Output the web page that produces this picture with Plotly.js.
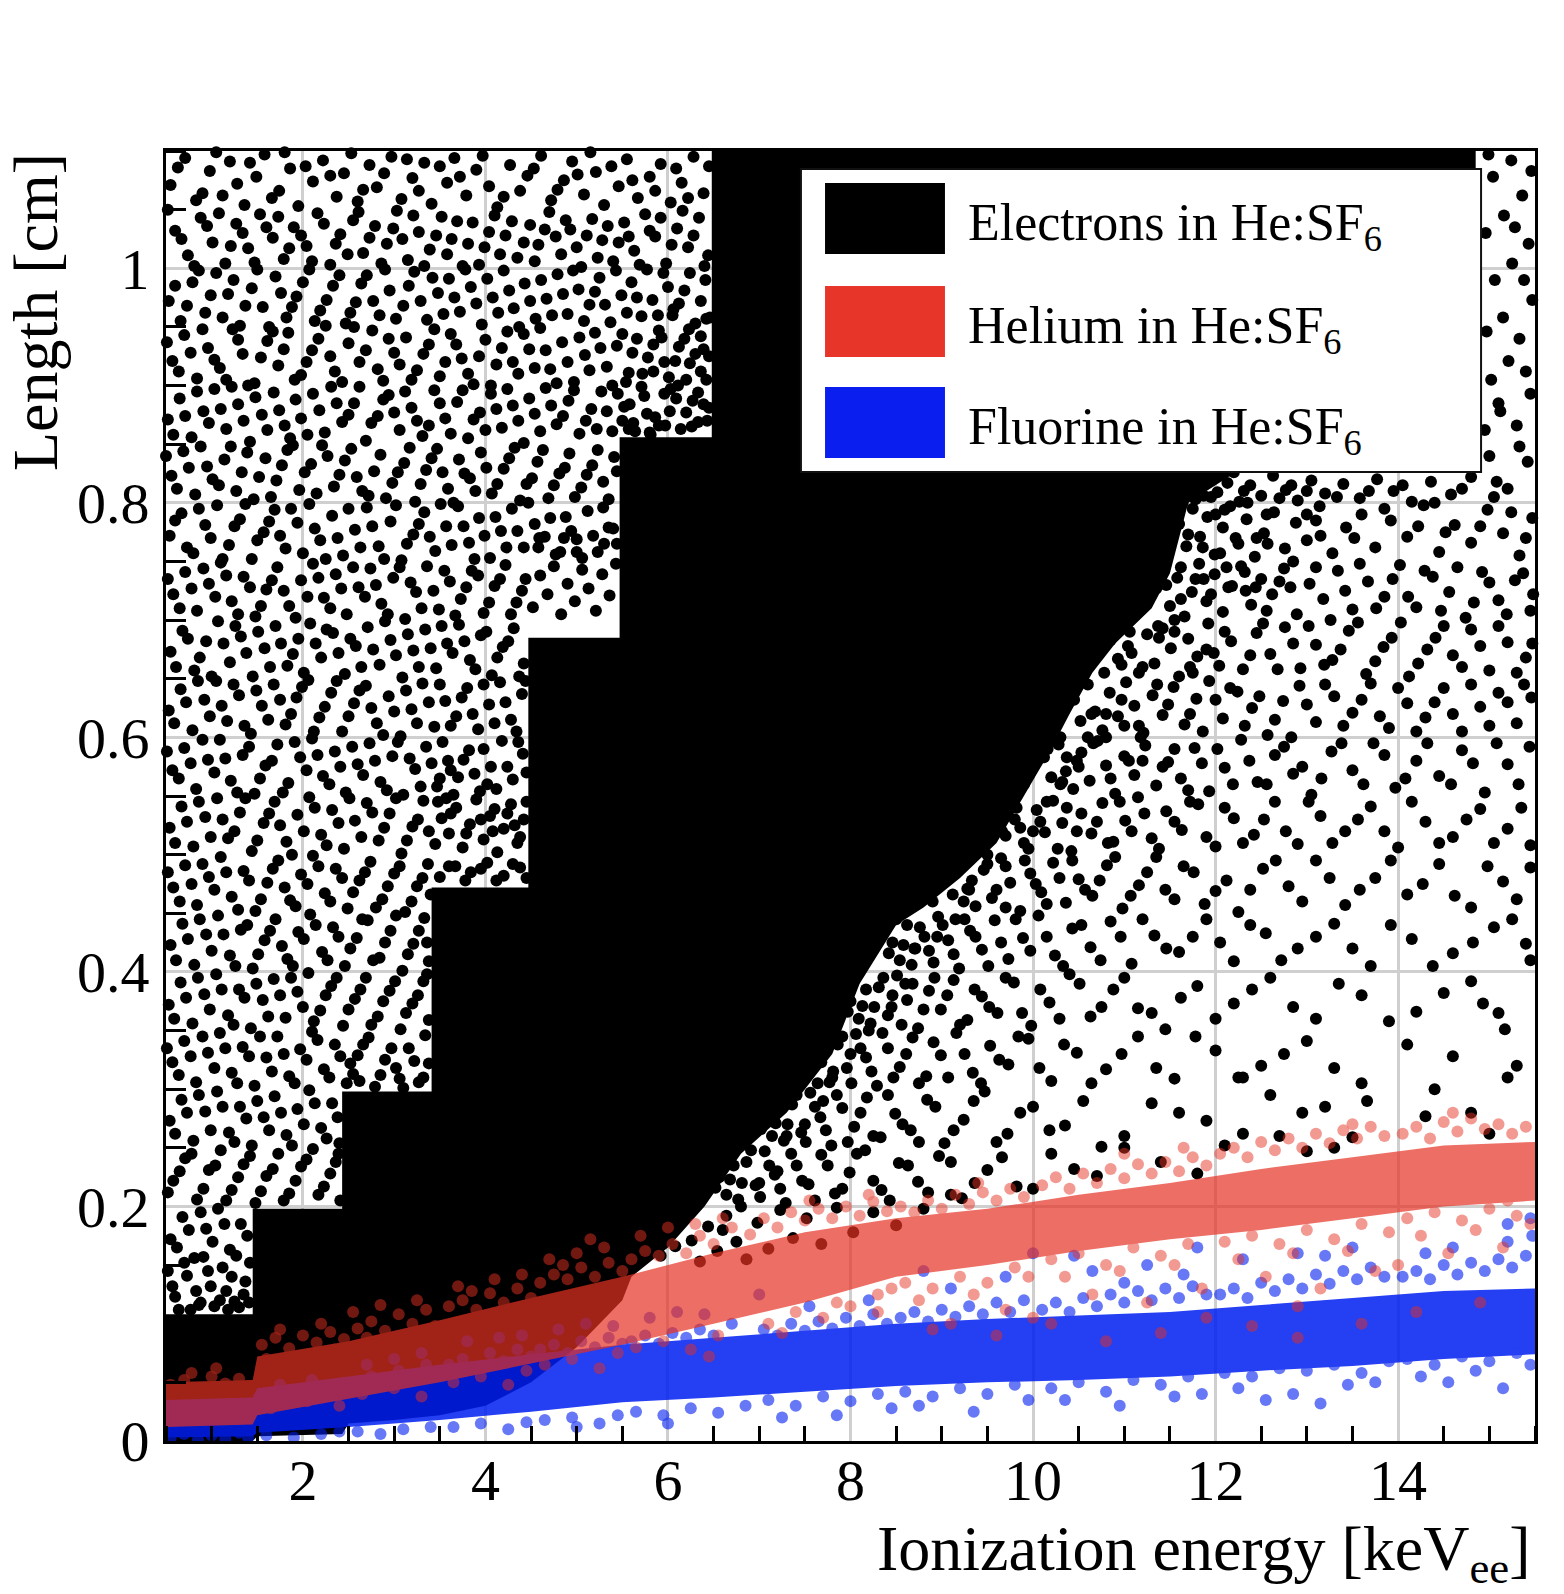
<!DOCTYPE html>
<html>
<head>
<meta charset="utf-8">
<script src="https://cdn.plot.ly/plotly-3.0.1.min.js"></script>
<style>html,body{margin:0;padding:0;background:#fff;}#chart{width:1564px;height:1594px;}</style>
</head>
<body>
<div id="chart"></div>
<script>
// ---------- DATA ----------
// Dense electron region outline (x: keVee, y: cm)
const electronCoreX = [0.5,0.5,1.45,1.45,2.43,2.43,3.41,3.41,4.47,4.47,5.47,5.47,6.48,6.48,14.85,14.85,13.2,12.2,11.7,11.5,11.3,10.9,10.65,10.4,10.2,9.9,9.6,9.2,8.8,8.5,8.1,7.8,7.3,6.8,6.4,6.0,5.6,5.5,5.0,4.5,4.0,3.5,3.0,2.5,2.43,1.5,1.45];
const electronCoreY = [0,0.108,0.108,0.198,0.198,0.298,0.298,0.472,0.472,0.685,0.685,0.856,0.856,1.1,1.1,0.85,0.84,0.825,0.80,0.74,0.71,0.68,0.655,0.62,0.59,0.55,0.51,0.48,0.455,0.44,0.39,0.33,0.28,0.245,0.2,0.165,0.14,0.12,0.08,0.05,0.03,0.022,0.018,0.015,0.006,0.004,0];

// Sparse electron events, upper-left (pairs x,y)
const electronDotsUL = [
.55,1.071,.71,1.094,.83,1.058,.98,1.083,1.12,1.062,1.2,1.091,1.36,1.054,1.49,1.078,1.58,1.097,1.74,1.066,1.86,1.085,1.95,1.053,2.11,1.074,2.22,1.092,2.37,1.061,2.45,1.081,2.6,1.057,2.73,1.088,2.81,1.069,2.97,1.095,3.08,1.059,3.2,1.077,3.33,1.09,3.41,1.055,3.58,1.073,3.66,1.094,3.79,1.062,3.9,1.084,4.04,1.07,4.13,1.052,4.27,1.088,4.38,1.066,4.46,1.079,4.61,1.096,4.72,1.058,4.86,1.075,4.95,1.091,5.08,1.063,5.21,1.082,5.3,1.054,5.46,1.07,5.55,1.093,5.67,1.06,5.8,1.078,5.92,1.089,6.03,1.056,6.15,1.073,6.28,1.095,6.39,1.064,
.6,1.032,.74,1.011,.88,1.043,1.01,1.022,1.15,1.004,1.27,1.038,1.4,1.017,1.53,1.046,1.67,1.026,1.79,1.008,1.9,1.035,2.04,1.019,2.16,1.047,2.3,1.003,2.41,1.029,2.55,1.041,2.66,1.013,2.79,1.036,2.92,1.021,3.03,1.049,3.15,1.007,3.27,1.031,3.39,1.016,3.52,1.044,3.63,1.025,3.75,1.002,3.86,1.039,3.99,1.018,4.1,1.045,4.22,1.028,4.35,1.009,4.49,1.037,4.58,1.02,4.7,1.048,4.83,1.012,4.93,1.033,5.05,1.001,5.17,1.042,5.28,1.024,5.4,1.006,5.52,1.039,5.63,1.015,5.75,1.046,5.86,1.027,5.98,1.004,6.1,1.034,6.22,1.018,6.34,1.043,6.44,1.011,
.53,.972,.66,.955,.79,.988,.93,.962,1.05,.996,1.18,.978,1.31,.951,1.44,.983,1.56,.967,1.7,.993,1.82,.958,1.93,.976,2.07,.999,2.19,.964,2.33,.985,2.47,.953,2.58,.971,2.7,.994,2.84,.96,2.95,.981,3.1,.968,3.22,.997,3.36,.956,3.48,.979,3.6,.991,3.72,.963,3.84,.984,3.96,.952,4.08,.975,4.2,.998,4.31,.966,4.43,.987,4.55,.957,4.67,.974,4.79,.995,4.9,.961,5.02,.982,5.14,.969,5.25,.992,5.37,.954,5.49,.977,5.6,.988,5.71,.959,5.83,.973,5.95,.996,6.06,.965,6.18,.981,6.3,.953,6.41,.99,
.57,.921,.7,.943,.84,.906,.96,.932,1.09,.915,1.23,.948,1.34,.927,1.47,.902,1.61,.938,1.73,.917,1.84,.945,1.98,.909,2.1,.93,2.25,.951,2.35,.912,2.5,.936,2.62,.92,2.76,.947,2.88,.904,3.0,.928,3.13,.941,3.25,.913,3.38,.935,3.5,.908,3.62,.944,3.74,.923,3.87,.901,4.0,.939,4.12,.918,4.24,.946,4.36,.91,4.48,.931,4.6,.949,4.71,.914,4.84,.937,4.97,.903,5.09,.926,5.2,.945,5.33,.916,5.44,.934,5.57,.911,5.66,.94,5.78,.924,5.9,.947,6.01,.907,6.12,.933,6.24,.919,6.36,.942,6.45,.925,
.52,.871,.65,.889,.78,.856,.91,.878,1.03,.897,1.16,.863,1.29,.884,1.42,.852,1.55,.875,1.68,.894,1.8,.866,1.92,.888,2.05,.858,2.18,.879,2.31,.899,2.43,.869,2.56,.885,2.69,.853,2.82,.874,2.94,.892,3.06,.862,3.19,.881,3.31,.857,3.44,.896,3.56,.872,3.69,.886,3.81,.855,3.94,.877,4.06,.893,4.18,.864,4.3,.883,4.42,.851,4.54,.876,4.66,.898,4.78,.867,4.91,.887,5.03,.859,5.16,.88,5.27,.895,5.39,.861,5.52,.882,5.62,.868,5.74,.891,5.86,.873,5.97,.866,6.09,.889,6.2,.877,6.33,.894,6.43,.87,
.56,.823,.69,.844,.82,.807,.95,.831,1.08,.815,1.21,.848,1.33,.826,1.46,.803,1.59,.838,1.71,.819,1.83,.845,1.96,.811,2.09,.833,2.21,.849,2.34,.814,2.46,.836,2.59,.822,2.72,.806,2.85,.841,2.98,.817,3.11,.834,3.23,.801,3.35,.828,3.47,.846,3.59,.812,3.71,.837,3.83,.821,3.95,.843,4.07,.808,4.2,.829,4.32,.847,4.45,.816,4.57,.835,4.69,.804,4.81,.825,4.92,.842,5.05,.813,5.17,.832,5.29,.818,5.41,.839,
.54,.772,.67,.791,.8,.757,.93,.781,1.06,.798,1.19,.764,1.31,.786,1.44,.752,1.57,.775,1.69,.794,1.81,.761,1.94,.783,2.07,.799,2.19,.768,2.32,.789,2.44,.755,2.57,.777,2.7,.796,2.83,.763,2.96,.784,3.08,.751,3.21,.773,3.33,.792,3.45,.759,3.57,.78,3.7,.797,3.82,.766,3.93,.787,4.05,.753,4.17,.776,4.29,.795,4.42,.762,4.54,.782,4.65,.771,4.77,.756,4.88,.788,5.0,.769,5.12,.793,5.23,.758,5.35,.779,5.44,.765,
.58,.722,.71,.741,.84,.708,.97,.731,1.1,.749,1.22,.716,1.35,.737,1.48,.703,1.6,.726,1.72,.745,1.85,.712,1.98,.734,2.11,.748,2.23,.719,2.36,.739,2.48,.705,2.61,.728,2.74,.744,2.86,.714,2.99,.736,3.12,.701,3.24,.724,3.36,.746,3.49,.709,3.61,.733,3.73,.718,3.85,.742,3.98,.706,4.1,.729,4.22,.747,4.34,.715,4.44,.735,4.52,.711,4.6,.738,4.68,.722,4.75,.746,4.83,.705,4.9,.731,4.98,.716,5.06,.743,5.13,.727,5.21,.708,5.28,.739,5.36,.721,5.43,.748,5.0,.758,4.58,.762,5.3,.765,4.86,.77,
.55,.673,.68,.691,.81,.657,.94,.682,1.07,.699,1.2,.664,1.32,.686,1.45,.652,1.58,.676,1.7,.695,1.83,.661,1.95,.684,2.08,.697,2.2,.668,2.33,.689,2.46,.654,2.58,.678,2.71,.694,2.84,.662,2.96,.683,3.09,.651,3.21,.674,3.34,.692,3.46,.659,3.58,.68,3.71,.696,3.83,.666,3.95,.687,4.07,.653,4.19,.677,4.31,.693,4.42,.663,
.53,.623,.66,.641,.79,.606,.92,.632,1.05,.648,1.17,.614,1.3,.636,1.43,.603,1.55,.627,1.68,.645,1.81,.611,1.93,.634,2.06,.649,2.18,.617,2.31,.638,2.43,.605,2.56,.629,2.69,.644,2.81,.612,2.94,.635,3.07,.601,3.19,.624,3.31,.646,3.44,.609,3.56,.631,3.68,.618,3.8,.642,3.92,.607,4.04,.628,4.16,.647,4.28,.615,4.4,.637,
.57,.572,.7,.591,.83,.556,.96,.581,1.09,.598,1.21,.563,1.34,.585,1.47,.552,1.59,.576,1.72,.594,1.84,.561,1.97,.583,2.1,.599,2.22,.567,2.35,.588,2.47,.553,2.6,.577,2.73,.595,2.85,.562,2.98,.584,3.1,.551,3.23,.573,3.35,.592,3.47,.558,3.59,.58,3.7,.566,3.82,.589,3.94,.554,4.06,.575,4.18,.597,4.3,.564,4.41,.586,3.65,.551,4.12,.556,3.88,.569,
.54,.523,.67,.541,.8,.507,.93,.532,1.06,.548,1.18,.514,1.31,.536,1.44,.503,1.57,.527,1.69,.545,1.82,.511,1.94,.534,2.07,.549,2.2,.517,2.32,.538,2.45,.505,2.57,.529,2.7,.544,2.83,.512,2.95,.535,3.08,.501,3.2,.524,3.32,.546,3.45,.509,3.52,.531,3.6,.518,3.68,.54,3.75,.506,3.83,.526,3.9,.547,3.98,.513,4.05,.533,4.13,.502,4.2,.522,4.28,.543,4.35,.51,4.42,.53,3.57,.548,4.1,.539,4.38,.515,
.58,.472,.71,.491,.84,.457,.97,.481,1.1,.498,1.22,.464,1.35,.486,1.48,.452,1.61,.476,1.73,.495,1.86,.461,1.98,.483,2.11,.499,2.24,.467,2.36,.488,2.49,.454,2.62,.478,2.74,.494,2.87,.462,3.0,.484,3.12,.451,3.25,.473,3.37,.492,3.5,.481,3.67,.49,3.84,.485,4.02,.493,4.2,.482,4.38,.489,
.55,.423,.68,.441,.81,.406,.94,.432,1.07,.448,1.2,.414,1.32,.436,1.45,.403,1.58,.427,1.7,.445,1.83,.411,1.95,.434,2.08,.449,2.21,.417,2.33,.438,2.46,.405,2.59,.429,2.71,.444,2.84,.412,2.96,.435,3.09,.401,3.21,.424,3.33,.446,3.38,.409,
.53,.372,.66,.391,.79,.356,.92,.381,1.05,.398,1.18,.363,1.3,.385,1.43,.352,1.56,.376,1.68,.394,1.81,.361,1.94,.383,2.06,.399,2.19,.367,2.31,.388,2.44,.354,2.57,.377,2.69,.395,2.82,.362,2.95,.384,3.07,.351,3.2,.373,3.32,.392,3.38,.359,
.57,.323,.7,.341,.83,.306,.96,.331,1.09,.348,1.22,.314,1.34,.336,1.47,.303,1.6,.327,1.72,.345,1.85,.311,1.97,.334,2.1,.349,2.23,.317,2.35,.338,2.48,.305,2.6,.329,2.72,.344,2.85,.312,2.97,.335,3.1,.301,3.22,.324,3.34,.346,2.55,.313,2.79,.302,3.02,.318,3.27,.306,
.54,.273,.67,.291,.8,.256,.93,.281,1.06,.298,1.19,.263,1.31,.285,1.44,.252,1.57,.276,1.69,.294,1.82,.261,1.94,.283,2.07,.299,2.2,.267,2.32,.288,2.4,.254,
.58,.222,.71,.241,.84,.206,.97,.231,1.1,.248,1.22,.214,1.35,.236,1.48,.203,1.6,.226,1.73,.245,1.85,.211,1.98,.234,2.11,.249,2.23,.217,2.36,.238,2.41,.205,
.55,.172,.68,.191,.81,.156,.94,.181,1.07,.198,1.2,.163,1.32,.185,1.42,.152,.6,.123,.73,.141,.86,.116,.99,.132,1.12,.148,1.25,.119,1.37,.136,.52,.145,.77,.112,1.03,.115,1.3,.114,.91,.157,1.16,.128,
5.5,.87,5.58,.884,5.64,.861,5.71,.899,5.77,.876,5.84,.912,5.9,.866,5.96,.893,6.02,.878,6.08,.921,6.14,.863,6.2,.905,6.27,.887,6.33,.869,6.39,.931,6.45,.881,5.61,.928,5.93,.941,6.23,.948,6.42,.957,5.81,.858,6.11,.9,6.36,.912,5.54,.903,6.05,.96
];
// More upper-left events lying between the ones above (pairs x,y)
const electronDotsUL2 = [
.63,1.086,.9,1.064,1.05,1.099,1.28,1.072,1.42,1.09,1.66,1.06,1.8,1.099,2.03,1.087,2.3,1.079,2.53,1.098,2.66,1.067,2.89,1.081,3.14,1.093,3.27,1.066,3.5,1.087,3.72,1.078,3.97,1.096,4.2,1.061,4.53,1.085,4.79,1.067,5.01,1.08,5.15,1.099,5.38,1.087,5.61,1.075,5.86,1.066,6.09,1.085,6.22,1.06,6.45,1.087,
.52,1.05,.67,1.025,.81,1.002,.95,1.036,1.08,1.047,1.21,1.019,1.34,1.03,1.47,1.005,1.6,1.035,1.73,1.044,1.85,1.017,1.98,1.028,2.1,1.006,2.23,1.038,2.36,1.021,2.49,1.012,2.61,1.048,2.73,1.026,2.86,1.004,2.99,1.034,3.09,1.025,3.21,1.045,3.33,1.002,3.46,1.028,3.58,1.012,3.69,1.04,3.81,1.021,3.93,1.003,4.04,1.031,4.16,1.012,4.29,1.04,4.42,1.022,4.54,1.006,4.65,1.033,4.77,1.027,4.88,1.041,5.0,1.018,5.11,1.028,5.23,1.009,5.34,1.036,5.46,1.022,5.57,1.027,5.69,1.003,5.8,1.032,5.92,1.043,6.04,1.02,6.16,1.049,6.28,1.028,6.4,1.002,
.6,.985,.73,.968,.86,.998,.99,.977,1.12,.958,1.24,.99,1.37,.968,1.5,.999,1.63,.95,1.76,.979,1.88,.967,2.0,.988,2.13,.955,2.26,.973,2.4,.994,2.52,.962,2.64,.987,2.77,.972,2.9,.999,3.02,.957,3.16,.985,3.29,.972,3.42,.992,3.54,.961,3.66,.975,3.78,.999,3.9,.97,4.02,.991,4.14,.962,4.26,.981,4.37,.95,4.49,.972,4.61,.99,4.73,.96,4.85,.978,4.96,.998,5.08,.955,5.2,.98,5.31,.969,5.43,.998,5.55,.962,5.66,.975,5.77,.999,5.89,.96,6.0,.984,6.12,.97,6.24,.996,6.36,.972,6.46,.958,
.51,.937,.64,.912,.77,.928,.9,.948,1.03,.922,1.16,.905,1.29,.939,1.4,.9,1.54,.924,1.67,.946,1.79,.931,1.91,.905,2.04,.92,2.17,.94,2.3,.925,2.43,.903,2.56,.95,2.69,.93,2.82,.914,2.94,.94,3.06,.918,3.19,.905,3.32,.927,3.44,.948,3.56,.92,3.68,.935,3.81,.91,3.93,.925,4.06,.9,4.18,.932,4.3,.92,4.42,.944,4.54,.915,4.66,.93,4.78,.902,4.9,.92,5.03,.941,5.14,.913,5.26,.932,5.39,.9,5.5,.944,5.72,.91,5.84,.935,5.96,.92,6.18,.94,6.3,.927,6.42,.905,
.58,.858,.71,.874,.84,.895,.97,.868,1.1,.88,1.22,.899,1.35,.87,1.48,.89,1.61,.862,1.74,.879,1.86,.855,1.98,.872,2.11,.893,2.24,.86,2.37,.885,2.5,.875,2.62,.899,2.75,.868,2.88,.888,3.0,.877,3.12,.895,3.25,.87,3.38,.866,3.5,.885,3.62,.859,3.75,.896,3.87,.871,4.0,.862,4.12,.88,4.24,.897,4.36,.87,4.48,.889,4.6,.861,4.72,.883,4.85,.874,4.97,.896,5.1,.87,5.22,.863,5.33,.878,5.45,.893,5.57,.863,5.8,.86,6.03,.897,6.26,.865,6.39,.884,
.5,.84,.62,.812,.75,.83,.88,.848,1.01,.82,1.14,.837,1.27,.81,1.39,.843,1.52,.822,1.65,.805,1.77,.832,1.89,.849,2.02,.826,2.15,.808,2.27,.84,2.4,.824,2.53,.846,2.65,.81,2.78,.827,2.91,.804,3.04,.826,3.17,.847,3.29,.816,3.41,.838,3.53,.826,3.65,.8,3.77,.825,3.89,.81,4.01,.83,4.13,.816,4.26,.838,4.38,.802,4.51,.821,4.63,.845,4.75,.815,4.87,.83,4.98,.805,5.11,.824,5.23,.845,5.35,.803,5.44,.827,
.6,.785,.73,.762,.86,.795,.99,.77,1.12,.752,1.25,.78,1.37,.799,1.5,.768,1.63,.784,1.75,.772,1.87,.795,2.0,.757,2.13,.778,2.25,.752,2.38,.77,2.5,.795,2.63,.762,2.76,.78,2.89,.752,3.02,.798,3.14,.765,3.27,.782,3.39,.771,3.51,.799,3.63,.764,3.76,.78,3.88,.752,3.99,.772,4.11,.788,4.23,.762,4.35,.776,4.47,.8,4.59,.77,4.71,.787,4.82,.758,4.94,.776,5.06,.753,5.18,.772,5.29,.796,5.4,.778,
.52,.735,.65,.71,.78,.727,.91,.744,1.04,.72,1.16,.738,1.29,.705,1.42,.728,1.54,.712,1.66,.734,1.79,.725,1.92,.702,2.05,.72,2.17,.736,2.3,.71,2.42,.727,2.55,.745,2.68,.72,2.8,.73,2.93,.705,3.06,.745,3.18,.732,3.3,.71,3.43,.725,3.55,.742,3.67,.704,3.79,.728,3.92,.738,4.04,.715,4.16,.735,4.28,.705,4.4,.725,
.61,.66,.74,.684,.87,.668,1.0,.652,1.13,.68,1.26,.695,1.38,.672,1.51,.69,1.64,.66,1.76,.68,1.89,.671,2.01,.655,2.14,.68,2.26,.692,2.39,.672,2.52,.684,2.64,.66,2.77,.675,2.9,.699,3.02,.67,3.15,.688,3.27,.66,3.4,.676,3.52,.695,3.64,.672,3.77,.682,3.89,.658,4.01,.69,4.13,.668,4.25,.682,4.37,.652,
.59,.612,.72,.63,.85,.648,.98,.618,1.11,.627,1.24,.645,1.36,.61,1.49,.64,1.62,.615,1.75,.632,1.87,.62,1.99,.643,2.12,.605,2.24,.626,2.37,.648,2.5,.618,2.62,.64,2.75,.625,2.88,.602,3.0,.622,3.13,.64,3.25,.612,3.38,.63,3.5,.645,3.62,.61,3.74,.634,3.86,.62,3.98,.645,4.1,.612,4.22,.63,4.34,.605,4.44,.648,
.51,.588,.64,.565,.77,.578,.9,.598,1.03,.57,1.15,.582,1.28,.553,1.41,.592,1.53,.565,1.66,.58,1.78,.553,1.91,.596,2.04,.572,2.16,.585,2.29,.56,2.41,.575,2.54,.592,2.66,.568,2.79,.58,2.92,.555,3.04,.596,3.17,.582,3.29,.558,3.41,.578,3.53,.596,3.62,.572,3.76,.581,3.98,.59,4.24,.575,4.36,.596,3.5,.565,4.02,.56,4.45,.57,
.6,.51,.73,.528,.86,.545,.99,.515,1.12,.53,1.25,.52,1.37,.548,1.5,.512,1.63,.535,1.75,.525,1.88,.5,2.01,.52,2.13,.54,2.26,.508,2.39,.527,2.51,.548,2.64,.515,2.76,.536,2.89,.523,3.02,.548,3.14,.512,3.26,.53,3.38,.52,3.48,.545,3.62,.535,3.79,.518,3.95,.53,4.08,.52,4.24,.535,4.32,.525,4.45,.545,
.52,.485,.65,.46,.78,.475,.9,.492,1.03,.47,1.16,.485,1.29,.453,1.41,.478,1.54,.462,1.67,.488,1.8,.472,1.92,.456,2.05,.475,2.17,.49,2.3,.46,2.43,.48,2.55,.468,2.68,.485,2.8,.455,2.93,.473,3.06,.49,3.19,.46,3.31,.48,3.4,.466,3.6,.49,3.78,.478,3.95,.488,4.12,.478,4.3,.492,4.45,.48,
.61,.41,.74,.428,.87,.445,1.0,.418,1.13,.432,1.26,.405,1.39,.44,1.51,.415,1.64,.435,1.77,.422,1.89,.405,2.01,.428,2.14,.44,2.27,.41,2.39,.43,2.52,.42,2.65,.445,2.77,.41,2.9,.425,3.02,.448,3.15,.415,3.27,.435,3.36,.425,
.59,.36,.72,.378,.85,.395,.98,.368,1.11,.385,1.24,.355,1.36,.378,1.49,.39,1.62,.362,1.75,.38,1.87,.395,2.0,.37,2.12,.358,2.25,.38,2.37,.395,2.5,.368,2.63,.385,2.75,.355,2.88,.375,3.01,.392,3.13,.365,3.26,.38,3.36,.398,
.51,.335,.64,.312,.77,.328,.9,.345,1.03,.318,1.15,.335,1.28,.305,1.41,.328,1.53,.345,1.66,.315,1.79,.33,1.91,.305,2.04,.325,2.16,.342,2.29,.31,2.41,.328,2.52,.322,2.66,.338,2.9,.325,3.16,.335,3.38,.322,2.62,.307,3.06,.309,3.32,.31,
.6,.262,.73,.28,.86,.295,.99,.265,1.12,.285,1.25,.255,1.38,.275,1.5,.29,1.63,.265,1.76,.28,1.88,.252,2.01,.27,2.13,.288,2.26,.258,2.38,.276,
.52,.212,.65,.23,.78,.245,.91,.215,1.04,.235,1.16,.205,1.29,.225,1.42,.243,1.54,.213,1.67,.232,1.79,.205,1.92,.222,2.04,.24,2.17,.21,2.3,.228,2.39,.245,
.62,.165,.75,.18,.88,.195,1.01,.17,1.14,.185,1.27,.158,1.39,.175,.57,.132,.7,.152,.83,.128,.96,.145,1.09,.12,1.22,.14,1.35,.125,.64,.112,.88,.118,1.18,.112,1.41,.118
];

// Sparse electron events, lower-right (pairs x,y)
const electronDotsUR = [
11.65,.812,11.78,.803,11.9,.821,12.02,.809,12.13,.817,12.26,.801,12.38,.815,12.5,.806,12.63,.823,12.77,.811,12.9,.802,13.05,.819,13.2,.808,13.4,.816,13.58,.804,13.77,.82,13.95,.81,14.15,.801,14.36,.818,14.58,.807,14.8,.822,15.0,.84,15.2,.812,15.42,.835,15.05,.805,15.33,.848,11.72,.824,12.2,.826,12.7,.804,
14.95,.862,15.12,.878,15.3,.866,15.45,.893,15.02,.905,15.21,.921,15.4,.912,14.97,.946,15.15,.958,15.33,.94,15.47,.973,15.06,.99,15.25,1.004,15.43,1.021,14.96,1.03,15.16,1.045,15.36,1.062,15.04,1.078,15.24,1.092,15.46,1.083,15.1,.885,15.38,.99,15.28,1.035,14.99,1.097,
11.6,.782,11.68,.763,11.75,.795,11.83,.771,11.91,.788,11.99,.756,12.08,.779,12.16,.797,12.25,.765,12.34,.786,12.43,.754,12.53,.774,12.64,.792,12.76,.761,12.88,.783,13.0,.768,13.14,.797,13.28,.757,13.43,.779,13.6,.79,13.75,.762,13.92,.785,14.1,.771,14.28,.798,14.45,.758,14.62,.781,14.8,.766,14.98,.794,15.15,.774,15.33,.755,15.47,.787,
11.35,.727,11.42,.745,11.5,.712,11.58,.736,11.66,.703,11.74,.724,11.82,.748,11.9,.716,11.99,.739,12.08,.707,12.18,.729,12.28,.746,12.39,.713,12.5,.735,12.62,.722,12.75,.744,12.89,.705,13.03,.731,13.18,.718,13.34,.742,13.5,.709,13.67,.733,13.85,.72,14.02,.747,14.2,.711,14.38,.737,14.56,.724,14.74,.702,14.92,.741,15.1,.717,15.28,.734,15.45,.708,
10.85,.683,10.93,.667,11.0,.695,11.08,.672,11.16,.655,11.25,.688,11.33,.663,11.42,.693,11.51,.676,11.6,.652,11.7,.684,11.8,.669,11.92,.697,12.04,.661,12.17,.682,12.3,.658,12.45,.689,12.6,.671,12.76,.694,12.93,.659,13.1,.679,13.28,.666,13.46,.691,13.65,.654,13.84,.677,14.03,.698,14.22,.663,14.41,.685,14.6,.67,14.8,.692,15.0,.657,15.2,.681,15.4,.668,
10.45,.632,10.52,.614,10.6,.645,10.68,.622,10.76,.606,10.84,.638,10.93,.618,11.02,.647,11.11,.627,11.21,.604,11.31,.636,11.42,.619,11.54,.643,11.66,.611,11.79,.633,11.93,.648,12.08,.616,12.24,.639,12.4,.625,12.57,.602,12.74,.631,12.92,.644,13.1,.613,13.3,.635,13.5,.621,13.7,.646,13.9,.608,14.1,.629,14.3,.617,14.5,.642,14.7,.605,14.9,.626,15.1,.638,15.3,.612,15.46,.634,
10.12,.583,10.2,.566,10.28,.594,10.36,.571,10.44,.556,10.53,.587,10.62,.563,10.71,.597,10.8,.576,10.9,.552,11.0,.584,11.11,.568,11.23,.593,11.35,.559,11.48,.579,11.62,.565,11.77,.591,11.93,.554,12.1,.574,12.28,.598,12.46,.562,12.65,.585,12.85,.569,13.05,.551,13.27,.588,13.5,.572,13.73,.595,13.97,.557,14.2,.58,14.45,.567,14.7,.589,14.95,.553,15.2,.577,15.44,.592,
9.62,.532,9.7,.516,9.78,.547,9.86,.523,9.95,.505,10.04,.538,10.13,.519,10.22,.546,10.32,.527,10.42,.503,10.53,.535,10.64,.518,10.76,.544,10.88,.511,11.01,.529,11.15,.549,11.3,.514,11.46,.537,11.63,.521,11.81,.543,12.0,.507,12.2,.531,12.42,.517,12.65,.545,12.9,.509,13.15,.533,13.42,.52,13.7,.541,14.0,.506,14.3,.528,14.6,.515,14.9,.539,15.2,.522,15.45,.508,
9.05,.482,9.12,.466,9.2,.494,9.28,.471,9.37,.456,9.46,.487,9.55,.463,9.65,.497,9.75,.476,9.86,.452,9.97,.484,10.09,.468,10.22,.493,10.36,.459,10.5,.479,10.65,.465,10.81,.491,10.98,.454,11.16,.474,11.35,.498,11.55,.462,11.76,.485,12.0,.469,12.25,.451,12.52,.488,12.8,.473,13.1,.495,13.42,.457,13.75,.48,14.1,.466,14.45,.492,14.8,.455,15.15,.477,15.45,.489,
8.35,.432,8.42,.416,8.5,.445,8.58,.423,8.67,.406,8.76,.438,8.86,.418,8.96,.447,9.07,.427,9.19,.403,9.31,.435,9.44,.419,9.58,.444,9.73,.411,9.89,.429,10.06,.448,10.24,.414,10.43,.437,10.63,.421,10.85,.443,11.08,.407,11.33,.431,11.6,.417,11.9,.445,12.2,.409,12.55,.433,12.9,.42,13.3,.441,13.7,.405,14.15,.428,14.6,.416,15.05,.438,15.4,.424,
7.9,.382,7.97,.366,8.05,.394,8.13,.371,8.22,.356,8.31,.387,8.41,.363,8.51,.397,8.62,.376,8.74,.352,8.86,.384,8.99,.368,9.13,.393,9.28,.359,9.44,.379,9.61,.365,9.79,.391,9.98,.354,10.18,.374,10.4,.398,10.63,.362,10.88,.385,11.15,.369,11.45,.351,11.8,.388,12.2,.373,12.6,.395,13.1,.36,13.6,.38,14.2,.366,14.8,.392,
7.45,.332,7.52,.316,7.6,.345,7.68,.323,7.77,.306,7.86,.338,7.96,.318,8.06,.347,8.17,.327,8.29,.303,8.41,.335,8.54,.319,8.68,.344,8.83,.311,8.99,.329,9.16,.348,9.34,.314,9.53,.337,9.73,.321,9.95,.343,10.2,.307,10.48,.331,10.8,.317,11.15,.345,11.55,.309,12.0,.333,12.5,.32,13.0,.341,13.6,.305,14.6,.328,
6.95,.282,7.02,.266,7.1,.294,7.18,.271,7.27,.256,7.36,.287,7.46,.263,7.56,.297,7.67,.276,7.79,.252,7.91,.284,8.04,.268,8.18,.293,8.33,.259,8.49,.279,8.66,.265,8.84,.291,9.03,.254,9.24,.274,9.47,.298,9.72,.262,10.0,.285,10.35,.269,10.75,.251,11.3,.288,11.9,.273,12.6,.295,13.5,.259,14.3,.277,15.0,.262,
6.45,.232,6.52,.216,6.6,.245,6.68,.223,6.77,.206,6.86,.238,6.96,.218,7.06,.247,7.17,.227,7.29,.203,7.41,.235,7.54,.219,7.68,.244,7.83,.211,7.99,.229,8.16,.248,8.34,.214,8.53,.237,8.74,.221,8.97,.243,9.22,.207,9.5,.231,9.82,.217,10.2,.245,10.7,.226,11.4,.238,12.1,.252,13.0,.247,14.8,.28,
5.85,.175,5.92,.158,6.0,.187,6.08,.166,6.17,.196,6.26,.171,6.35,.153,6.44,.183,6.54,.162,6.64,.192,6.75,.17,6.86,.155,6.98,.186,7.1,.164,7.23,.197,7.37,.173,7.52,.19,7.68,.168,7.85,.199,8.03,.178,8.25,.195,8.5,.184,8.8,.198,9.1,.21,
14.93,.373,15.17,.351,15.45,.41,13.66,.29,12.95,.28,12.3,.31,14.4,.3,15.3,.32,12.7,.26,13.3,.25
];
// More lower-right events (pairs x,y)
const electronDotsUR2 = [
11.64,.8,11.87,.806,12.1,.794,12.31,.81,12.56,.79,12.83,.815,13.1,.785,13.33,.805,13.52,.77,13.68,.81,13.85,.795,14.05,.815,14.22,.78,14.4,.8,14.52,.775,14.7,.812,14.9,.78,15.08,.818,15.24,.792,15.4,.77,13.0,.81,12.45,.77,11.95,.805,
11.46,.73,11.62,.718,11.87,.735,12.12,.745,12.33,.725,12.56,.708,12.82,.728,13.1,.745,13.26,.7,13.42,.725,13.58,.748,13.76,.71,13.94,.735,14.11,.72,14.29,.742,14.47,.708,14.65,.745,14.83,.715,15.0,.732,15.19,.705,15.37,.74,15.48,.722,
10.9,.69,11.04,.678,11.2,.66,11.37,.695,11.55,.69,11.75,.655,11.98,.672,12.1,.69,12.38,.67,12.52,.697,12.68,.658,12.85,.68,13.02,.695,13.19,.662,13.37,.675,13.56,.698,13.75,.665,13.93,.685,14.12,.652,14.32,.675,14.5,.695,14.7,.66,14.9,.678,15.1,.695,15.3,.655,15.47,.68,
10.48,.645,10.64,.62,10.8,.6,10.97,.632,11.16,.61,11.36,.645,11.48,.628,11.72,.62,11.86,.605,12.0,.632,12.16,.642,12.32,.61,12.48,.635,12.65,.615,12.83,.6,13.0,.628,13.2,.645,13.4,.61,13.6,.632,13.8,.618,14.0,.642,14.2,.605,14.4,.63,14.6,.62,14.8,.645,15.0,.61,15.2,.63,15.38,.645,
10.16,.59,10.32,.562,10.48,.58,10.66,.595,10.85,.565,11.05,.58,11.18,.6,11.42,.575,11.55,.59,11.7,.555,11.85,.578,12.02,.59,12.19,.56,12.37,.58,12.56,.56,12.75,.592,12.95,.575,13.16,.565,13.38,.595,13.62,.56,13.85,.585,14.08,.565,14.32,.595,14.58,.56,14.82,.578,15.08,.595,15.32,.56,
9.66,.52,9.82,.54,9.9,.51,10.08,.528,10.27,.505,10.37,.54,10.48,.52,10.7,.528,10.82,.51,10.95,.545,11.08,.52,11.22,.535,11.38,.505,11.55,.528,11.72,.545,11.9,.515,12.1,.54,12.3,.51,12.53,.53,12.77,.52,13.02,.545,13.28,.51,13.56,.53,13.85,.52,14.15,.545,14.45,.51,14.75,.53,15.05,.51,15.35,.54,
9.08,.49,9.24,.46,9.33,.478,9.5,.492,9.6,.47,9.7,.455,9.91,.495,10.03,.475,10.15,.458,10.29,.48,10.43,.495,10.57,.47,10.73,.478,10.9,.498,11.07,.465,11.25,.485,11.45,.47,11.65,.49,11.88,.458,12.12,.478,12.38,.47,12.66,.495,12.95,.46,13.25,.48,13.58,.47,13.92,.495,14.27,.475,14.62,.465,14.98,.49,15.3,.462,
8.38,.445,8.46,.425,8.54,.41,8.62,.44,8.71,.42,8.81,.43,8.91,.408,9.01,.44,9.13,.415,9.25,.445,9.37,.43,9.51,.405,9.65,.425,9.81,.445,9.97,.418,10.15,.43,10.33,.405,10.53,.44,10.74,.41,10.96,.43,11.2,.445,11.46,.42,11.75,.43,12.05,.425,12.38,.44,12.72,.41,13.1,.43,13.5,.42,13.92,.44,14.38,.405,14.82,.425,15.25,.445,
7.93,.395,8.0,.375,8.09,.36,8.17,.385,8.26,.37,8.36,.395,8.46,.38,8.56,.355,8.68,.39,8.8,.368,8.92,.395,9.06,.38,9.2,.355,9.36,.385,9.52,.37,9.7,.395,9.88,.365,10.08,.385,10.29,.36,10.51,.39,10.75,.37,11.0,.395,11.3,.365,11.62,.378,12.0,.36,12.4,.385,12.85,.37,13.35,.39,13.9,.358,14.5,.382,15.1,.365,
7.48,.345,7.56,.32,7.64,.305,7.72,.335,7.81,.315,7.91,.345,8.01,.305,8.11,.335,8.23,.315,8.35,.348,8.47,.31,8.61,.33,8.75,.305,8.91,.34,9.07,.31,9.25,.33,9.43,.305,9.63,.325,9.84,.345,10.07,.318,10.34,.338,10.64,.305,10.97,.33,11.35,.318,11.78,.345,12.25,.31,12.75,.33,13.3,.318,14.1,.338,15.2,.31,
6.98,.295,7.06,.275,7.14,.26,7.22,.285,7.31,.27,7.41,.295,7.51,.255,7.61,.285,7.73,.265,7.85,.295,7.97,.255,8.11,.28,8.25,.26,8.41,.295,8.57,.27,8.75,.255,8.93,.285,9.13,.265,9.35,.29,9.6,.255,9.86,.28,10.18,.265,10.55,.29,11.0,.26,11.6,.28,12.3,.262,13.2,.285,
6.48,.245,6.56,.225,6.64,.21,6.72,.235,6.81,.22,6.91,.248,7.01,.208,7.11,.235,7.23,.215,7.35,.245,7.47,.222,7.61,.205,7.75,.235,7.91,.215,8.07,.245,8.25,.222,8.43,.205,8.63,.235,8.85,.212,9.1,.238,9.36,.22,9.66,.242,10.0,.215,10.45,.232,11.0,.25,11.8,.228
];

// Extra electron events crowding the edge of the dense region (pairs x,y)
const electronDotsEdge = [
11.62,.745,11.7,.773,11.78,.735,11.86,.762,11.95,.722,12.05,.757,12.14,.728,12.22,.77,12.32,.741,12.44,.728,12.57,.765,12.7,.733,12.85,.75,13.0,.79,13.15,.772,11.48,.778,11.57,.804,11.8,.81,12.0,.79,12.35,.8,
10.7,.68,10.78,.655,10.88,.7,10.97,.662,11.06,.69,11.2,.714,11.38,.685,11.55,.7,11.72,.66,11.9,.675,10.3,.6,10.37,.583,10.5,.575,10.6,.6,10.8,.62,11.0,.61,11.2,.58,
9.8,.53,9.9,.56,10.0,.52,10.15,.545,10.3,.56,9.7,.49,9.5,.5,9.3,.47,9.15,.445,8.95,.43,8.7,.42,8.6,.39,8.45,.37,8.2,.35,8.0,.33,7.8,.31,7.7,.29,7.5,.27,7.3,.26,7.2,.23,7.0,.22,6.8,.2,6.6,.18,9.4,.52,9.05,.5,8.9,.46,8.1,.41,7.6,.36
];

// Helium recoil band outline
const heliumBandX  = [0.5,1.45,1.5,2.5,3.5,4.5,5.5,6.5,7.5,8.5,9.5,10.5,11.5,12.5,13.5,14.5,15.5];
const heliumUpper  = [0.05,0.052,0.072,0.085,0.103,0.122,0.14,0.16,0.178,0.19,0.198,0.21,0.22,0.232,0.242,0.252,0.255];
const heliumLower  = [0.012,0.014,0.022,0.036,0.05,0.066,0.082,0.1,0.118,0.14,0.15,0.162,0.172,0.18,0.19,0.2,0.205];
// Helium recoil events (pairs x,y)
const heliumDots = [
.55,.048,.7,.052,.85,.045,1.0,.055,1.15,.049,1.3,.053,.62,.04,.95,.042,1.25,.044,.78,.058,1.4,.047,1.05,.062,
1.55,.082,1.7,.088,1.85,.079,2.0,.09,2.15,.084,2.3,.093,2.45,.087,1.6,.07,1.95,.072,2.35,.078,1.75,.095,2.2,.1,1.65,.028,2.05,.034,2.4,.03,
2.6,.096,2.75,.102,2.9,.094,3.05,.108,3.2,.1,3.35,.112,2.7,.088,3.1,.09,3.45,.098,2.85,.116,3.25,.12,2.65,.04,3.0,.045,3.3,.038,2.55,.11,
3.6,.115,3.75,.12,3.9,.112,4.05,.126,4.2,.118,4.35,.13,4.5,.122,3.7,.132,4.1,.138,4.4,.142,3.65,.05,3.95,.055,4.25,.048,4.45,.06,3.85,.128,
4.6,.135,4.75,.142,4.9,.138,5.05,.148,5.2,.14,5.35,.152,5.5,.145,4.7,.155,5.0,.16,5.3,.165,4.65,.065,4.95,.07,5.25,.062,5.45,.075,4.85,.15,5.15,.172,
5.6,.155,5.75,.162,5.9,.158,6.05,.168,6.2,.16,6.35,.175,6.5,.168,5.7,.175,6.0,.182,6.3,.185,6.6,.19,5.65,.08,5.95,.085,6.25,.078,6.55,.09,5.85,.095,6.15,.1,6.45,.072,6.7,.182,6.9,.176,
7.05,.19,7.2,.182,7.35,.195,7.5,.188,7.65,.198,7.8,.19,7.95,.2,8.1,.192,8.25,.204,8.4,.196,7.1,.1,7.4,.11,7.7,.105,8.0,.115,8.3,.125,7.25,.092,7.85,.118,8.45,.13,7.55,.205,8.2,.21,
8.55,.2,8.7,.195,8.85,.205,9.0,.198,9.15,.21,9.3,.202,9.45,.212,9.6,.205,9.75,.215,9.9,.208,8.6,.135,8.9,.13,9.2,.14,9.5,.135,9.8,.148,8.75,.12,9.35,.125,9.95,.14,9.1,.1,9.7,.112,10.0,.105,9.4,.22,
10.1,.218,10.25,.225,10.4,.215,10.55,.228,10.7,.22,10.85,.232,11.0,.224,11.15,.236,11.3,.228,11.45,.238,11.6,.23,11.75,.242,11.9,.235,10.2,.155,10.5,.16,10.8,.15,11.1,.165,11.4,.158,11.7,.168,10.35,.14,10.95,.145,11.55,.15,11.85,.13,10.65,.125,11.25,.118,11.0,.245,11.65,.25,
12.05,.245,12.2,.25,12.35,.242,12.5,.255,12.65,.248,12.8,.258,12.95,.25,13.1,.262,13.25,.254,13.4,.265,13.55,.258,13.7,.268,13.85,.26,12.1,.17,12.4,.175,12.7,.168,13.0,.18,13.3,.172,13.6,.185,13.9,.178,12.25,.155,12.85,.16,13.45,.162,12.55,.14,13.15,.13,13.75,.145,12.9,.115,13.5,.27,
14.05,.262,14.2,.268,14.35,.258,14.5,.272,14.65,.264,14.8,.275,14.95,.266,15.1,.27,15.25,.262,15.4,.268,14.1,.19,14.4,.195,14.7,.188,15.0,.198,15.3,.192,14.25,.175,14.85,.18,15.45,.185,14.55,.16,15.15,.165,14.6,.28,15.2,.205,15.47,.24,14.0,.15,
8.3,.11,8.9,.095,9.6,.09,10.2,.1,10.8,.085,11.4,.092,11.9,.105,12.4,.098,12.9,.088,13.6,.1,14.2,.11,14.9,.118
];

// Fluorine recoil band outline
const fluorineBandX = [0.5,1.45,1.5,2.5,3.5,4.5,5.5,6.5,7.5,8.5,9.5,10.5,11.5,12.5,13.5,14.5,15.5];
const fluorineUpper = [0.035,0.037,0.045,0.055,0.065,0.074,0.082,0.088,0.094,0.1,0.104,0.107,0.11,0.116,0.122,0.128,0.13];
const fluorineLower = [0.003,0.004,0.007,0.012,0.018,0.025,0.033,0.037,0.042,0.047,0.05,0.052,0.055,0.06,0.064,0.07,0.074];
// Fluorine recoil events (pairs x,y)
const fluorineDots = [
.55,.002,.7,.006,.85,.001,1.0,.005,1.15,.002,1.3,.007,1.4,.003,.6,.02,.9,.022,1.2,.021,.75,.018,1.05,.024,1.35,.019,
1.55,.035,1.7,.04,1.85,.033,2.0,.042,2.15,.038,2.3,.045,2.45,.04,1.6,.005,1.9,.003,2.2,.006,2.4,.008,1.75,.048,2.1,.052,
2.6,.05,2.75,.055,2.9,.048,3.05,.06,3.2,.054,3.35,.065,3.45,.058,2.6,.008,2.85,.006,3.1,.01,3.4,.012,2.7,.065,3.0,.07,3.3,.075,
3.6,.065,3.75,.07,3.9,.062,4.05,.075,4.2,.068,4.35,.078,4.5,.072,3.65,.012,3.95,.015,4.25,.01,4.45,.016,3.8,.085,4.15,.088,4.4,.09,3.7,.025,
4.6,.078,4.75,.082,4.9,.075,5.05,.085,5.2,.08,5.35,.088,5.5,.083,4.65,.018,4.95,.02,5.25,.015,5.45,.022,4.8,.095,5.1,.1,5.4,.098,5.0,.012,
5.6,.085,5.75,.09,5.9,.083,6.05,.092,6.2,.088,6.35,.095,6.5,.09,5.65,.025,5.95,.022,6.25,.028,6.55,.024,5.8,.105,6.1,.11,6.4,.108,6.7,.1,6.0,.015,6.85,.03,
7.05,.095,7.2,.09,7.35,.1,7.5,.094,7.65,.102,7.8,.096,7.95,.105,8.1,.098,8.25,.108,8.4,.1,7.1,.035,7.4,.03,7.7,.038,8.0,.034,8.3,.04,7.25,.02,7.85,.022,8.45,.028,7.55,.115,8.2,.12,7.0,.125,
8.55,.105,8.7,.11,8.85,.102,9.0,.112,9.15,.106,9.3,.115,9.45,.108,9.6,.118,9.75,.11,9.9,.12,8.6,.042,8.9,.038,9.2,.045,9.5,.04,9.8,.048,8.75,.03,9.35,.025,9.95,.035,9.1,.13,9.7,.14,8.8,.145,10.0,.16,
10.1,.112,10.25,.118,10.4,.11,10.55,.122,10.7,.115,10.85,.125,11.0,.118,11.15,.128,11.3,.12,11.45,.13,11.6,.122,11.75,.132,11.9,.125,10.2,.045,10.5,.05,10.8,.042,11.1,.052,11.4,.048,11.7,.055,10.35,.035,10.95,.03,11.55,.038,11.85,.04,10.65,.145,11.25,.15,11.0,.135,11.65,.142,10.45,.158,11.8,.165,
12.05,.125,12.2,.13,12.35,.122,12.5,.135,12.65,.128,12.8,.138,12.95,.13,13.1,.142,13.25,.134,13.4,.145,13.55,.138,13.7,.148,13.85,.14,12.1,.058,12.4,.055,12.7,.062,13.0,.06,13.3,.065,13.6,.058,13.9,.068,12.25,.045,12.85,.04,13.45,.048,12.55,.035,13.15,.032,13.75,.05,12.9,.16,13.5,.165,12.3,.155,13.2,.158,
14.05,.14,14.2,.145,14.35,.138,14.5,.15,14.65,.142,14.8,.152,14.95,.145,15.1,.155,15.25,.148,15.4,.158,14.1,.07,14.4,.065,14.7,.072,15.0,.068,15.3,.075,14.25,.055,14.85,.06,15.45,.065,14.55,.05,15.15,.045,14.6,.165,15.2,.17,15.47,.175,14.3,.16,15.45,.19,15.2,.185
];

const legendLabels = ['Electrons in He:SF<sub>6</sub>','Helium in He:SF<sub>6</sub>','Fluorine in He:SF<sub>6</sub>'];
const xTitle = 'Ionization energy [keV<sub>ee</sub>]';
const yTitle = 'Length [cm]';

// ---------- BUILD ----------
function pairs(a){const x=[],y=[];for(let i=0;i<a.length;i+=2){x.push(a[i]);y.push(a[i+1]);}return {x,y};}
// One trace holding the filled band outline (no markers) followed by the single events,
// each event separated by a gap so it forms no fill of its own. Trace-level opacity then
// blends the whole group at once, so overlapping events do not darken (as in the original).
function bandTrace(xs,up,lo,dots,color,opacity,size){
  const px=xs.concat(xs.slice().reverse()), py=up.concat(lo.slice().reverse());
  const x=px.slice(), y=py.slice(), s=px.map(()=>0);
  const d=pairs(dots);
  d.x.forEach((v,i)=>{x.push(null,v);y.push(null,d.y[i]);s.push(0,size);});
  return {type:'scatter',mode:'markers',x:x,y:y,fill:'toself',fillcolor:color,
          marker:{color:color,size:s,line:{width:0}},opacity:opacity,connectgaps:false,
          hoverinfo:'skip',showlegend:false};
}

const SERIF='Liberation Serif, Times New Roman, serif';
const eAll=pairs(electronDotsUL.concat(electronDotsUL2,electronDotsUR,electronDotsUR2,electronDotsEdge));

const traces=[
 {type:'scatter',mode:'none',x:electronCoreX,y:electronCoreY,fill:'toself',fillcolor:'#000000',hoverinfo:'skip',showlegend:false},
 {type:'scatter',mode:'markers',x:eAll.x,y:eAll.y,marker:{color:'#000000',size:12,line:{width:0}},cliponaxis:false,showlegend:false},
 bandTrace(fluorineBandX,fluorineUpper,fluorineLower,fluorineDots,'rgb(0,30,240)',0.85,12),
 bandTrace(heliumBandX,heliumUpper,heliumLower,heliumDots,'rgb(230,50,35)',0.7,12)
];

// plot area in pixels: x 166..1535, y 151..1441
const legendColors=['#000000','#e8352a','#0a1ef0'];
const rowCenters=[0.9477,0.8678,0.7896];
const shapes=[{type:'rect',xref:'paper',yref:'paper',x0:0.4638,x1:0.9606,y0:0.7512,y1:0.986,fillcolor:'white',line:{color:'#111',width:2},layer:'above'}];
const annotations=[];
legendColors.forEach((c,i)=>{
  shapes.push({type:'rect',xref:'paper',yref:'paper',x0:0.4814,x1:0.569,y0:rowCenters[i]-0.0275,y1:rowCenters[i]+0.0275,fillcolor:c,line:{width:0},layer:'above'});
  annotations.push({xref:'paper',yref:'paper',x:0.5844,y:rowCenters[i]-0.006,xanchor:'left',yanchor:'middle',showarrow:false,text:legendLabels[i],font:{family:SERIF,size:52,color:'black'}});
});
annotations.push({xref:'paper',yref:'paper',x:0.998,y:-0.087,xanchor:'right',yanchor:'middle',showarrow:false,text:xTitle,font:{family:SERIF,size:64,color:'black'}});
annotations.push({xref:'paper',yref:'paper',x:-0.0957,y:1.0,xanchor:'center',yanchor:'top',textangle:-90,showarrow:false,text:yTitle,font:{family:SERIF,size:64,color:'black'}});

const axisCommon={showline:true,linecolor:'black',linewidth:3,mirror:true,showgrid:true,gridcolor:'#cfcfcf',gridwidth:3,zeroline:false,ticks:'',tickfont:{family:SERIF,size:58,color:'black'}};
const layout={
  width:1564,height:1594,
  margin:{l:166,r:29,t:151,b:153},
  paper_bgcolor:'white',plot_bgcolor:'white',
  showlegend:false,
  xaxis:Object.assign({},axisCommon,{range:[0.5,15.5],tick0:0,dtick:2,ticklabelstandoff:-14,
     minor:{dtick:0.5,tick0:0,ticks:'inside',ticklen:15,tickwidth:3,tickcolor:'black',showgrid:false}}),
  yaxis:Object.assign({},axisCommon,{range:[0,1.1],tick0:0,dtick:0.2,ticklabelstandoff:2,
     minor:{dtick:0.05,tick0:0,ticks:'inside',ticklen:20,tickwidth:3,tickcolor:'black',showgrid:false}}),
  shapes:shapes,annotations:annotations
};
Plotly.newPlot('chart',traces,layout,{staticPlot:true,displayModeBar:false});
</script>
</body>
</html>
